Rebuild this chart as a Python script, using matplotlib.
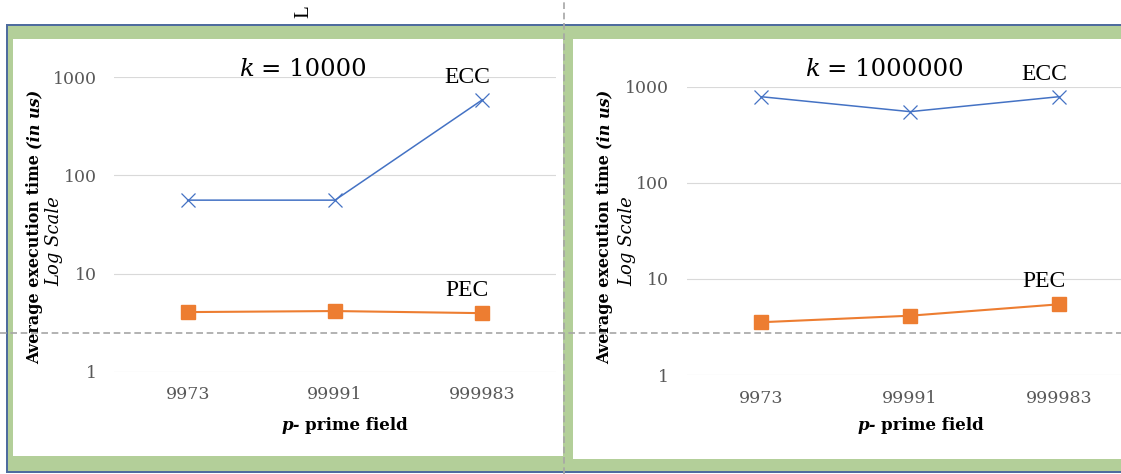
import matplotlib
matplotlib.use("Agg")
import matplotlib.pyplot as plt
from matplotlib.patches import Rectangle
from matplotlib.lines import Line2D
from matplotlib.ticker import FixedLocator, FixedFormatter, NullLocator

# ---- data -------------------------------------------------------------
primes = ["9973", "99991", "999983"]
ecc_k10000 = [56, 56, 590]
pec_k10000 = [4.05, 4.15, 3.95]
ecc_k1000000 = [787, 550, 787]
pec_k1000000 = [3.54, 4.14, 5.44]
k_values = ["10000", "1000000"]
y_ticks = [1, 10, 100, 1000]
y_tick_labels = ["1", "10", "100", "1000"]

# ---- figure -----------------------------------------------------------
W, H = 1121, 474
fig = plt.figure(figsize=(W / 100, H / 100), dpi=100)
fig.patch.set_facecolor("white")
renderer = fig.canvas.get_renderer()

GREEN = "#b3cf99"
BORDER = "#4e6c9e"
ECC_C = "#4472C4"
PEC_C = "#ED7D31"
TICK_C = "#595959"
SERIF = "DejaVu Serif"
LABEL_SERIF = "Liberation Serif"


def fx(x):
    return x / W


def fy(y):
    return 1 - y / H


def rect(x0, y0, x1, y1, color, z=-5):
    fig.add_artist(Rectangle((fx(x0), fy(y1)), (x1 - x0) / W, (y1 - y0) / H,
                             transform=fig.transFigure, facecolor=color,
                             edgecolor="none", zorder=z))


def rich(pieces, x, y, vertical=False, gap=5.0):
    """Lay out differently styled pieces of text one after another.
    Horizontal: x is the centre of the run, y the baseline (pixels from top).
    Vertical: y is the centre of the run, x the baseline."""
    texts, lengths = [], []
    for s, kw in pieces:
        t = fig.text(0, 0, s, rotation=90 if vertical else 0,
                     rotation_mode="anchor", ha="left", va="baseline", **kw)
        bb = t.get_window_extent(renderer)
        lengths.append(bb.height if vertical else bb.width)
        texts.append(t)
    total = sum(lengths) + gap * (len(pieces) - 1)
    if vertical:
        pos = y + total / 2
        for t, L in zip(texts, lengths):
            t.set_position((fx(x), fy(pos)))
            pos -= L + gap
    else:
        pos = x - total / 2
        for t, L in zip(texts, lengths):
            t.set_position((fx(pos), fy(y)))
            pos += L + gap


# ---- panel frames -----------------------------------------------------
rect(6, 24, W, 473, BORDER, z=-6)
rect(7.5, 26, W, 471, GREEN, z=-5)
rect(13, 39, 563, 456, "white", z=-4)
rect(573, 39, W, 459, "white", z=-4)


# ---- panels -----------------------------------------------------------
def panel(box, ecc, pec, k, title_x, xlab_x, ylab_x, log_x):
    x0, y_top, x1, y_bot = box
    ax = fig.add_axes([fx(x0), fy(y_bot), (x1 - x0) / W, (y_bot - y_top) / H])
    ax.set_facecolor("none")
    ax.set_yscale("log")
    ax.set_ylim(1, 1000)
    ax.set_xlim(-0.5, 2.5)
    ax.yaxis.set_major_locator(FixedLocator(y_ticks))
    ax.yaxis.set_major_formatter(FixedFormatter(y_tick_labels))
    ax.yaxis.set_minor_locator(NullLocator())
    ax.set_xticks(range(len(primes)))
    ax.set_xticklabels(primes)
    for s in ax.spines.values():
        s.set_visible(False)
    ax.tick_params(axis="y", length=0, pad=12.5, labelsize=12.5,
                   labelcolor=TICK_C)
    ax.tick_params(axis="x", length=0, pad=10.5, labelsize=12.5,
                   labelcolor=TICK_C)
    for lab in ax.get_xticklabels() + ax.get_yticklabels():
        lab.set_fontfamily(SERIF)
    ax.grid(axis="y", color="#d9d9d9", lw=0.8)
    ax.set_axisbelow(True)

    xs = range(len(primes))
    ax.plot(xs, ecc, color=ECC_C, lw=1.1, marker="x", ms=10.5, mew=0.9,
            clip_on=False, zorder=3)
    ax.plot(xs, pec, color=PEC_C, lw=1.5, marker="s", ms=9.5,
            clip_on=False, zorder=3)
    for name, vals in (("ECC", ecc), ("PEC", pec)):
        ax.annotate(name, xy=(2, vals[2]), xytext=(-15, 17),
                    textcoords="offset pixels", ha="center", va="baseline",
                    fontsize=17, family=LABEL_SERIF, color="black")

    # title
    rich([("k", dict(fontsize=17.5, family=SERIF, style="italic")),
          ("= " + k, dict(fontsize=17.5, family=SERIF))],
         title_x, 76, gap=6)
    # x label
    rich([("p-", dict(fontsize=12, family=SERIF, weight="bold",
                      style="italic")),
          ("prime field", dict(fontsize=12, family=SERIF, weight="bold"))],
         xlab_x, 430, gap=5)
    # y label
    rich([("Average execution time", dict(fontsize=11.5, family=SERIF,
                                          weight="bold")),
          ("(in us)", dict(fontsize=11.5, family=SERIF, weight="bold",
                           style="italic"))],
         ylab_x, 227, vertical=True, gap=5)
    rich([("Log Scale", dict(fontsize=13, family=SERIF, style="italic"))],
         log_x, 241, vertical=True)
    return ax


panel((114, 77.3, 556, 371.7), ecc_k10000, pec_k10000, k_values[0],
      303, 345, 39.5, 59)
panel((686.5, 86.7, 1133.5, 375), ecc_k1000000, pec_k1000000, k_values[1],
      885, 921, 609.5, 632)

# ---- page guides ------------------------------------------------------
guide = dict(color="#a6a6a6", lw=1.2, dashes=(4, 2.2), zorder=20,
             transform=fig.transFigure)
fig.add_artist(Line2D([fx(564), fx(564)], [0, 1], **guide))
fig.add_artist(Line2D([0, 1], [fy(333), fy(333)], **guide))

fig.text(fx(304), fy(12), "L", rotation=90, ha="center", va="center",
         fontsize=15, family=LABEL_SERIF, color="black")

fig.savefig("out.png", dpi=100, facecolor="white")
